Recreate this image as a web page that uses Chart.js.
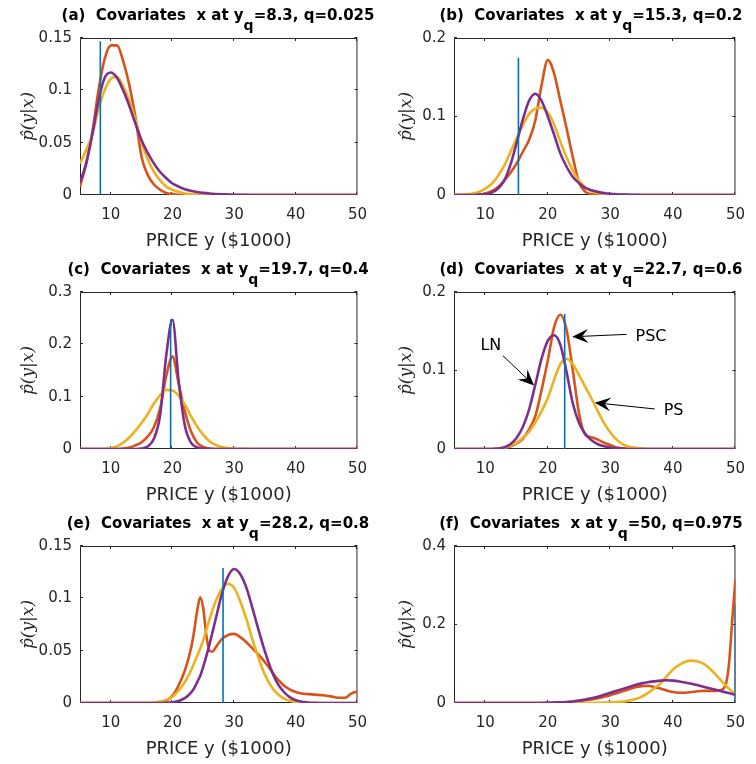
<!DOCTYPE html>
<html>
<head>
<meta charset="utf-8">
<title>Conditional densities at quantiles</title>
<script src="https://cdn.jsdelivr.net/npm/chart.js@4.4.1/dist/chart.umd.min.js"></script>
<style>
  html, body { margin: 0; padding: 0; background: #fff; }
  #fig { position: relative; width: 756px; height: 764px; overflow: hidden; }
  .panel { position: absolute; width: 378px; height: 254px; }
  .panel canvas { position: absolute; left: 0; top: 0; }
  .ttl { position: absolute; top: 6px; line-height: 18px; white-space: pre;
         font: bold 15px "DejaVu Sans", sans-serif; color: #000; transform: translateX(-50%); }
  .ttl sub { font-size: 14px; vertical-align: -10px; line-height: 0; }
</style>
</head>
<body>
<div id="fig"></div>
<script>
// x grids, PRICE y ($1000)
const price = [5, 6, 7, 8, 9, 10, 11, 12, 13, 14, 15, 16, 17, 18, 19, 20, 21, 22, 23, 24,
  25, 26, 27, 28, 29, 30, 31, 32, 33, 34, 35, 36, 37, 38, 39, 40, 41, 42, 43, 44, 45, 46, 47, 48, 49, 50];
const priceE = [5, 6, 7, 8, 9, 10, 11, 12, 13, 14, 15, 16, 17, 18, 19, 20, 21, 22, 23,
  23.5, 24, 24.5, 25, 25.5, 26, 26.5,
  27, 28, 29, 30, 31, 32, 33, 34, 35, 36, 37, 38, 39, 40, 41, 42, 43, 44, 45, 46, 47, 48, 49, 50];
const priceF = [5, 6, 7, 8, 9, 10, 11, 12, 13, 14, 15, 16, 17, 18, 19, 20, 21, 22, 23, 24,
  25, 26, 27, 28, 29, 30, 31, 32, 33, 34, 35, 36, 37, 38, 39, 40, 41, 42, 43, 44, 45, 46, 47, 48,
  48.5, 49, 49.5, 50];
const xTickValues = [10, 20, 30, 40, 50];

// (a)
const pscA = [0.008, 0.03, 0.06, 0.1, 0.13, 0.143, 0.143, 0.128, 0.105, 0.074,
  0.036, 0.019, 0.01, 0.005, 0.002, 0.001, 0.0003, 0, 0, 0,
  0, 0, 0, 0, 0, 0, 0, 0, 0, 0, 0, 0, 0, 0, 0, 0, 0, 0, 0, 0, 0, 0, 0, 0, 0, 0];
const psA = [0.03, 0.043, 0.058, 0.082, 0.1, 0.111, 0.113, 0.104, 0.09, 0.072,
  0.05, 0.034, 0.022, 0.014, 0.008, 0.005, 0.003, 0.0015, 0.0008, 0.0004,
  0.0002, 0, 0, 0, 0, 0, 0, 0, 0, 0, 0, 0, 0, 0, 0, 0, 0, 0, 0, 0, 0, 0, 0, 0, 0, 0];
const lnA = [0.012, 0.03, 0.058, 0.09, 0.112, 0.117, 0.112, 0.1, 0.085, 0.068,
  0.052, 0.04, 0.03, 0.022, 0.016, 0.011, 0.008, 0.0055, 0.004, 0.0028,
  0.002, 0.0014, 0.001, 0.0007, 0.0005, 0.0003, 0.0002, 0.0001, 0, 0,
  0, 0, 0, 0, 0, 0, 0, 0, 0, 0, 0, 0, 0, 0, 0, 0];

// (b)
const pscB = [0, 0, 0, 0, 0.0005, 0.002, 0.005, 0.01, 0.018, 0.028,
  0.04, 0.055, 0.07, 0.095, 0.14, 0.172, 0.155, 0.12, 0.085, 0.048,
  0.016, 0.004, 0.001, 0, 0, 0, 0, 0, 0, 0,
  0, 0, 0, 0, 0, 0, 0, 0, 0, 0, 0, 0, 0, 0, 0, 0];
const psB = [0.0002, 0.0005, 0.001, 0.002, 0.004, 0.008, 0.014, 0.024, 0.037, 0.054,
  0.072, 0.089, 0.103, 0.11, 0.111, 0.105, 0.09, 0.068, 0.048, 0.031,
  0.018, 0.01, 0.005, 0.0025, 0.001, 0.0005, 0.0002, 0, 0, 0,
  0, 0, 0, 0, 0, 0, 0, 0, 0, 0, 0, 0, 0, 0, 0, 0];
const lnB = [0, 0, 0, 0, 0.0005, 0.001, 0.003, 0.008, 0.018, 0.038,
  0.066, 0.096, 0.12, 0.129, 0.12, 0.1, 0.077, 0.053, 0.036, 0.023,
  0.015, 0.009, 0.006, 0.004, 0.0025, 0.0015, 0.001, 0.0006, 0.0004, 0.0002,
  0, 0, 0, 0, 0, 0, 0, 0, 0, 0, 0, 0, 0, 0, 0, 0];

// (c)
const pscC = [0, 0, 0, 0, 0, 0, 0, 0.001, 0.003, 0.007,
  0.013, 0.024, 0.042, 0.078, 0.14, 0.177, 0.125, 0.072, 0.034, 0.012,
  0.004, 0.001, 0, 0, 0, 0, 0, 0, 0, 0,
  0, 0, 0, 0, 0, 0, 0, 0, 0, 0, 0, 0, 0, 0, 0, 0];
const psC = [0, 0, 0, 0, 0.0005, 0.002, 0.005, 0.012, 0.022, 0.035,
  0.05, 0.067, 0.087, 0.103, 0.113, 0.112, 0.102, 0.085, 0.063, 0.043,
  0.027, 0.015, 0.008, 0.004, 0.002, 0.001, 0.0004, 0, 0, 0,
  0, 0, 0, 0, 0, 0, 0, 0, 0, 0, 0, 0, 0, 0, 0, 0];
const lnC = [0, 0, 0, 0, 0, 0, 0, 0, 0, 0,
  0.001, 0.005, 0.02, 0.065, 0.18, 0.247, 0.13, 0.045, 0.012, 0.003,
  0.0008, 0.0002, 0, 0, 0, 0, 0, 0, 0, 0,
  0, 0, 0, 0, 0, 0, 0, 0, 0, 0, 0, 0, 0, 0, 0, 0];

// (d)
const pscD = [0, 0, 0, 0, 0, 0, 0, 0, 0.001, 0.003,
  0.007, 0.013, 0.025, 0.042, 0.075, 0.113, 0.155, 0.171, 0.152, 0.1,
  0.045, 0.018, 0.015, 0.012, 0.008, 0.005, 0.002, 0.001, 0, 0,
  0, 0, 0, 0, 0, 0, 0, 0, 0, 0, 0, 0, 0, 0, 0, 0];
const psD = [0, 0, 0, 0, 0, 0, 0, 0.001, 0.002, 0.004,
  0.008, 0.014, 0.022, 0.034, 0.048, 0.065, 0.088, 0.108, 0.115, 0.108,
  0.094, 0.079, 0.064, 0.048, 0.033, 0.021, 0.012, 0.006, 0.003, 0.0015,
  0.0006, 0, 0, 0, 0, 0, 0, 0, 0, 0, 0, 0, 0, 0, 0, 0];
const lnD = [0, 0, 0, 0, 0, 0, 0, 0.0005, 0.002, 0.006,
  0.014, 0.028, 0.05, 0.082, 0.115, 0.138, 0.145, 0.133, 0.098, 0.058,
  0.033, 0.019, 0.011, 0.006, 0.0035, 0.002, 0.001, 0.0005, 0, 0,
  0, 0, 0, 0, 0, 0, 0, 0, 0, 0, 0, 0, 0, 0, 0, 0];

// (e) on priceE
const pscE = [0, 0, 0, 0, 0, 0, 0, 0, 0, 0,
  0, 0, 0, 0.0005, 0.002, 0.007, 0.017, 0.031, 0.052,
  0.068, 0.088, 0.101, 0.09, 0.064, 0.05, 0.049,
  0.053, 0.061, 0.065, 0.066, 0.063, 0.058, 0.052, 0.046, 0.039, 0.031,
  0.023, 0.017, 0.013, 0.0105, 0.009, 0.0085, 0.008, 0.0075, 0.007, 0.006,
  0.005, 0.005, 0.009, 0.011];
const psE = [0, 0, 0, 0, 0, 0, 0, 0, 0, 0,
  0, 0, 0.0005, 0.0015, 0.003, 0.006, 0.012, 0.02, 0.031,
  0.038, 0.045, 0.052, 0.06, 0.07, 0.08, 0.089,
  0.097, 0.109, 0.114, 0.11, 0.097, 0.08, 0.06, 0.042, 0.027, 0.016,
  0.0088, 0.0045, 0.0021, 0.0009, 0.0004, 0, 0, 0, 0, 0,
  0, 0, 0, 0];
const lnE = [0, 0, 0, 0, 0, 0, 0, 0, 0, 0,
  0, 0, 0, 0, 0.0002, 0.0007, 0.0019, 0.0046, 0.01,
  0.014, 0.02, 0.026, 0.035, 0.045, 0.056, 0.068,
  0.08, 0.104, 0.121, 0.128, 0.123, 0.11, 0.09, 0.069, 0.049, 0.032,
  0.019, 0.011, 0.0056, 0.0027, 0.0012, 0.0005, 0.0002, 0, 0, 0,
  0, 0, 0, 0];

// (f) on priceF
const pscF = [0, 0, 0, 0, 0, 0, 0, 0, 0, 0,
  0, 0, 0, 0, 0, 0.0005, 0.001, 0.0015, 0.002, 0.003,
  0.005, 0.007, 0.009, 0.012, 0.016, 0.02, 0.025, 0.03, 0.035, 0.04,
  0.043, 0.044, 0.041, 0.037, 0.032, 0.028, 0.026, 0.026, 0.028, 0.03,
  0.031, 0.031, 0.031, 0.036,
  0.05, 0.105, 0.215, 0.315];
const psF = [0, 0, 0, 0, 0, 0, 0, 0, 0, 0,
  0, 0, 0, 0, 0, 0, 0, 0, 0, 0,
  0, 0, 0, 0.0005, 0.001, 0.0015, 0.0025, 0.0035, 0.006, 0.01,
  0.016, 0.025, 0.037, 0.05, 0.068, 0.085, 0.097, 0.105, 0.108, 0.106,
  0.099, 0.086, 0.07, 0.052,
  0.044, 0.036, 0.029, 0.022];
const lnF = [0, 0, 0, 0, 0, 0, 0, 0, 0, 0,
  0, 0, 0, 0, 0, 0.0005, 0.001, 0.0015, 0.0025, 0.004,
  0.006, 0.009, 0.012, 0.016, 0.021, 0.026, 0.031, 0.036, 0.041, 0.046,
  0.05, 0.053, 0.055, 0.057, 0.058, 0.057, 0.055, 0.052, 0.049, 0.045,
  0.041, 0.037, 0.033, 0.029,
  0.027, 0.025, 0.023, 0.021];

// per panel
const panelLetters = ["a", "b", "c", "d", "e", "f"];
const quantilePrice = [8.3, 15.3, 19.7, 22.7, 28.2, 50];
const quantileLevel = ["0.025", "0.2", "0.4", "0.6", "0.8", "0.975"];
const quantileLineTop = [0.147, 0.175, 0.248, 0.172, 0.129, 0.25];
const yMaxes = [0.15, 0.2, 0.3, 0.2, 0.15, 0.4];
const yTicksA = [0, 0.05, 0.1, 0.15];
const yTicksB = [0, 0.1, 0.2];
const yTicksC = [0, 0.1, 0.2, 0.3];
const yTicksF = [0, 0.2, 0.4];

const panels = [
  { xs: price, psc: pscA, ps: psA, ln: lnA, yTicks: yTicksA },
  { xs: price, psc: pscB, ps: psB, ln: lnB, yTicks: yTicksB },
  { xs: price, psc: pscC, ps: psC, ln: lnC, yTicks: yTicksC },
  { xs: price, psc: pscD, ps: psD, ln: lnD, yTicks: yTicksB },
  { xs: priceE, psc: pscE, ps: psE, ln: lnE, yTicks: yTicksA },
  { xs: priceF, psc: pscF, ps: psF, ln: lnF, yTicks: yTicksF }
];

const BLUE = "#0072BD", ORANGE = "#D95319", YELLOW = "#EDB120", PURPLE = "#7E2F8E";
const AXIS = "#262626";

Chart.defaults.font.family = '"DejaVu Sans", sans-serif';
Chart.defaults.color = AXIS;

function pts(xs, ys) {
  return xs.map((x, i) => ({ x: x, y: ys[i] }));
}

// matlab style box with inward ticks
const boxPlugin = {
  id: "box",
  beforeDatasetsDraw(chart) {
    const { ctx, chartArea: a, scales } = chart;
    ctx.save();
    ctx.strokeStyle = AXIS;
    ctx.lineWidth = 1;
    ctx.beginPath();
    ctx.rect(a.left + 0.5, a.top + 0.5, a.right - a.left - 1, a.bottom - a.top - 1);
    scales.x.ticks.forEach(t => {
      const px = Math.round(scales.x.getPixelForValue(t.value)) - 0.5;
      ctx.moveTo(px, a.bottom); ctx.lineTo(px, a.bottom - 3);
      ctx.moveTo(px, a.top); ctx.lineTo(px, a.top + 3);
    });
    scales.y.ticks.forEach(t => {
      const py = Math.round(scales.y.getPixelForValue(t.value)) - 0.5;
      ctx.moveTo(a.left, py); ctx.lineTo(a.left + 3, py);
      ctx.moveTo(a.right, py); ctx.lineTo(a.right - 3, py);
    });
    ctx.stroke();
    ctx.restore();
  }
};

// labels with arrows in panel (d), data coordinates
const callouts = [
  { text: "LN", at: [10.9, 0.131], tail: [12.8, 0.119], tip: [17.8, 0.081] },
  { text: "PSC", at: [36.5, 0.143], tail: [32.6, 0.146], tip: [23.9, 0.143] },
  { text: "PS", at: [40.1, 0.048], tail: [37.1, 0.051], tip: [27.5, 0.059] }
];

const calloutPlugin = {
  id: "callouts",
  afterDatasetsDraw(chart) {
    const { ctx, scales: { x, y } } = chart;
    ctx.save();
    ctx.fillStyle = "#000";
    ctx.strokeStyle = "#000";
    ctx.lineWidth = 1;
    ctx.font = '16px "DejaVu Sans"';
    ctx.textAlign = "center";
    ctx.textBaseline = "middle";
    callouts.forEach(c => {
      ctx.fillText(c.text, x.getPixelForValue(c.at[0]), y.getPixelForValue(c.at[1]));
      const x0 = x.getPixelForValue(c.tail[0]), y0 = y.getPixelForValue(c.tail[1]);
      const x1 = x.getPixelForValue(c.tip[0]), y1 = y.getPixelForValue(c.tip[1]);
      const len = Math.hypot(x1 - x0, y1 - y0);
      const ux = (x1 - x0) / len, uy = (y1 - y0) / len;
      const nx = -uy, ny = ux;
      const L = 16, W = 7, back = 10;
      ctx.beginPath();
      ctx.moveTo(x0, y0);
      ctx.lineTo(x1 - ux * back, y1 - uy * back);
      ctx.stroke();
      ctx.beginPath();
      ctx.moveTo(x1, y1);
      ctx.lineTo(x1 - ux * L + nx * W, y1 - uy * L + ny * W);
      ctx.lineTo(x1 - ux * back, y1 - uy * back);
      ctx.lineTo(x1 - ux * L - nx * W, y1 - uy * L - ny * W);
      ctx.closePath();
      ctx.fill();
    });
    ctx.restore();
  }
};

const fig = document.getElementById("fig");
const rowTops = [0, 254, 508];

panels.forEach((p, i) => {
  const col = i % 2, row = Math.floor(i / 2);
  const cell = document.createElement("div");
  cell.className = "panel";
  cell.style.left = (col * 378) + "px";
  cell.style.top = rowTops[row] + "px";
  fig.appendChild(cell);

  const canvas = document.createElement("canvas");
  canvas.width = 378;
  canvas.height = 254;
  cell.appendChild(canvas);

  const ttl = document.createElement("div");
  ttl.className = "ttl";
  ttl.style.left = (col ? 213 : 218) + "px";
  ttl.innerHTML = "(" + panelLetters[i] + ")  Covariates  x at y<sub>q</sub>=" +
    quantilePrice[i] + ", q=" + quantileLevel[i];
  cell.appendChild(ttl);

  new Chart(canvas, {
    type: "line",
    data: {
      datasets: [
        { data: [{ x: quantilePrice[i], y: 0 }, { x: quantilePrice[i], y: quantileLineTop[i] }],
          borderColor: BLUE, borderWidth: 1.6, cubicInterpolationMode: "default" },
        { data: pts(p.xs, p.ln), borderColor: PURPLE },
        { data: pts(p.xs, p.ps), borderColor: YELLOW },
        { data: pts(p.xs, p.psc), borderColor: ORANGE }
      ]
    },
    options: {
      responsive: false,
      animation: false,
      layout: { padding: { top: 38, right: col ? 18 : 13, left: 0, bottom: 0 } },
      elements: {
        point: { radius: 0 },
        line: { borderWidth: 2.6, cubicInterpolationMode: "monotone", fill: false }
      },
      plugins: { legend: { display: false }, tooltip: { enabled: false } },
      scales: {
        x: {
          type: "linear", min: 5, max: 50,
          grid: { display: false, drawTicks: false },
          border: { display: false },
          afterBuildTicks: s => { s.ticks = xTickValues.map(v => ({ value: v })); },
          afterFit: s => { s.height = 59; },
          ticks: { autoSkip: false, maxRotation: 0, padding: 11, font: { size: 15 }, callback: v => String(v) },
          title: { display: true, text: "PRICE y ($1000)", font: { size: 18 }, padding: { top: 0, bottom: 2 } }
        },
        y: {
          type: "linear", min: 0, max: yMaxes[i],
          grid: { display: false, drawTicks: false },
          border: { display: false },
          afterBuildTicks: s => { s.ticks = p.yTicks.map(v => ({ value: v })); },
          afterFit: s => { s.width = col ? 76 : 80; },
          ticks: { padding: 8, font: { size: 15 }, callback: v => String(v) },
          title: {
            display: true, text: "p\u0302(y|x)",
            font: { family: '"DejaVu Serif", serif', style: "italic", size: 17 },
            padding: { top: 18, bottom: 0 }
          }
        }
      }
    },
    plugins: i === 3 ? [boxPlugin, calloutPlugin] : [boxPlugin]
  });
});
</script>
</body>
</html>
